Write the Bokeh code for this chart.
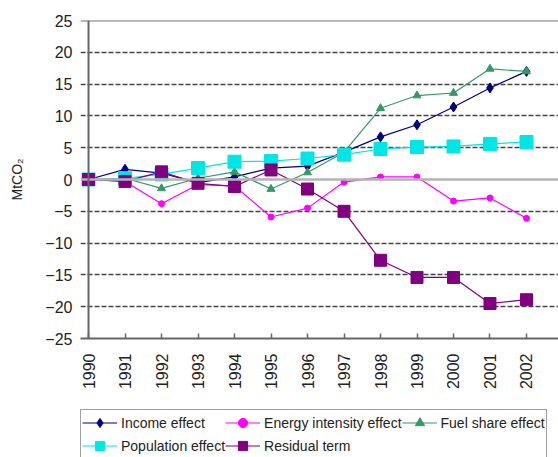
import math
from bokeh.plotting import figure
from bokeh.layouts import column
from bokeh.models import (Range1d, FixedTicker, Span, Legend, LegendItem)
from bokeh.embed import file_html
from bokeh.resources import INLINE

years = [1990, 1991, 1992, 1993, 1994, 1995, 1996, 1997, 1998, 1999, 2000, 2001, 2002]
income = [0, 1.6, 1.0, -0.5, 0.4, 1.8, 2.1, 4.3, 6.7, 8.6, 11.4, 14.4, 17.0]
energy = [0, -0.3, -3.8, -0.8, -1.0, -5.9, -4.5, -0.4, 0.4, 0.4, -3.4, -2.9, -6.1]
fuel = [0, 0.2, -1.4, 0.2, 1.2, -1.5, 1.1, 4.3, 11.2, 13.2, 13.6, 17.4, 17.0]
population = [0, 0.2, 0.8, 1.8, 2.8, 2.9, 3.3, 3.9, 4.8, 5.1, 5.2, 5.6, 5.9]
residual = [0, -0.3, 1.2, -0.6, -1.1, 1.5, -1.5, -5.0, -12.7, -15.4, -15.4, -19.5, -18.9]
y_ticks = [-25, -20, -15, -10, -5, 0, 5, 10, 15, 20, 25]
grid_ticks = [-20, -15, -10, -5, 5, 10, 15, 20]

FONT = "Liberation Sans"

p = figure(frame_width=478, frame_height=318, output_backend="svg", toolbar_location=None,
           x_range=Range1d(1989.78, 2002.877), y_range=Range1d(-25, 25),
           min_border_left=80, min_border_top=20, min_border_right=0,
           min_border_bottom=0)
p.outline_line_color = None
p.background_fill_color = "white"

# y axis at the frame's left edge; its visible line is drawn at 1990
p.yaxis.ticker = FixedTicker(ticks=y_ticks)
p.yaxis.major_tick_out = 0
p.yaxis.major_tick_in = 0
p.yaxis.minor_tick_line_color = None
p.yaxis.axis_line_color = None
p.yaxis.major_label_standoff = 8
p.yaxis.major_label_text_font = FONT
p.yaxis.major_label_text_font_size = "16px"
p.yaxis.major_label_text_color = "#222222"
p.yaxis.axis_label = "MtCO₂"
p.yaxis.axis_label_text_font = FONT
p.yaxis.axis_label_text_font_size = "14px"
p.yaxis.axis_label_text_font_style = "normal"
p.yaxis.axis_label_text_color = "#222222"
p.yaxis.axis_label_standoff = 17

p.xaxis.ticker = FixedTicker(ticks=years)
p.xaxis.major_tick_in = 5
p.xaxis.major_tick_out = 0
p.xaxis.major_tick_line_color = "#666666"
p.xaxis.major_tick_line_width = 1.5
p.xaxis.minor_tick_line_color = None
p.xaxis.axis_line_color = "#666666"
p.xaxis.axis_line_width = 2
p.xaxis.major_label_orientation = math.pi / 2
p.xaxis.major_label_standoff = 15
p.xaxis.major_label_text_font = FONT
p.xaxis.major_label_text_font_size = "16px"
p.xaxis.major_label_text_color = "#222222"

p.xgrid.grid_line_color = None
p.ygrid.ticker = FixedTicker(ticks=grid_ticks)
p.ygrid.grid_line_color = "#444444"
p.ygrid.grid_line_width = 1.5
p.ygrid.grid_line_dash = "5 2"

p.add_layout(Span(location=0, dimension="width", line_color="#b3b3b3", line_width=2.5))
p.add_layout(Span(location=25, dimension="width", line_color="#777777", line_width=2))
p.add_layout(Span(location=years[0], dimension="height", line_color="#666666", line_width=2))

series = [
    ("Income effect", income, "#000080", "diamond", 10),
    ("Energy intensity effect", energy, "#ff00ff", "circle", 6),
    ("Fuel share effect", fuel, "#339966", "triangle", 8),
    ("Population effect", population, "#00e5e5", "square", 13),
    ("Residual term", residual, "#800080", "square", 12),
]

for name, vals, col, marker, size in series:
    p.line(years, vals, line_color=col, line_width=1.2)
    p.scatter(years, vals, marker=marker, size=size, fill_color=col, line_color=col)

# legend strip: same series drawn outside its visible range, only the legend shows
lf = figure(width=558, height=67, output_backend="svg", toolbar_location=None,
            x_range=Range1d(0, 1), y_range=Range1d(0, 1),
            x_axis_location=None, y_axis_location=None,
            min_border_left=0, min_border_right=0, min_border_top=0, min_border_bottom=0)
lf.outline_line_color = None
lf.xgrid.visible = False
lf.ygrid.visible = False

items = []
for name, vals, col, marker, size in series:
    ln = lf.line(years, vals, line_color=col, line_width=1.2)
    sc = lf.scatter(years, vals, marker=marker, size=size * 0.8, fill_color=col,
                    line_color=col)
    items.append(LegendItem(label=name, renderers=[ln, sc]))

legend = Legend(items=items, ncols=3, orientation="horizontal", location=(0, 0),
                label_text_font=FONT, label_text_font_size="14px",
                label_text_color="#222222", glyph_width=35, glyph_height=23,
                label_height=23, label_standoff=4, spacing=0, padding=1,
                margin=0, border_line_color="#444444", border_line_width=1,
                background_fill_alpha=1)
lf.add_layout(legend, "center")

layout = column(p, lf, spacing=0)
open("out.html", "w").write(file_html(layout, INLINE))
